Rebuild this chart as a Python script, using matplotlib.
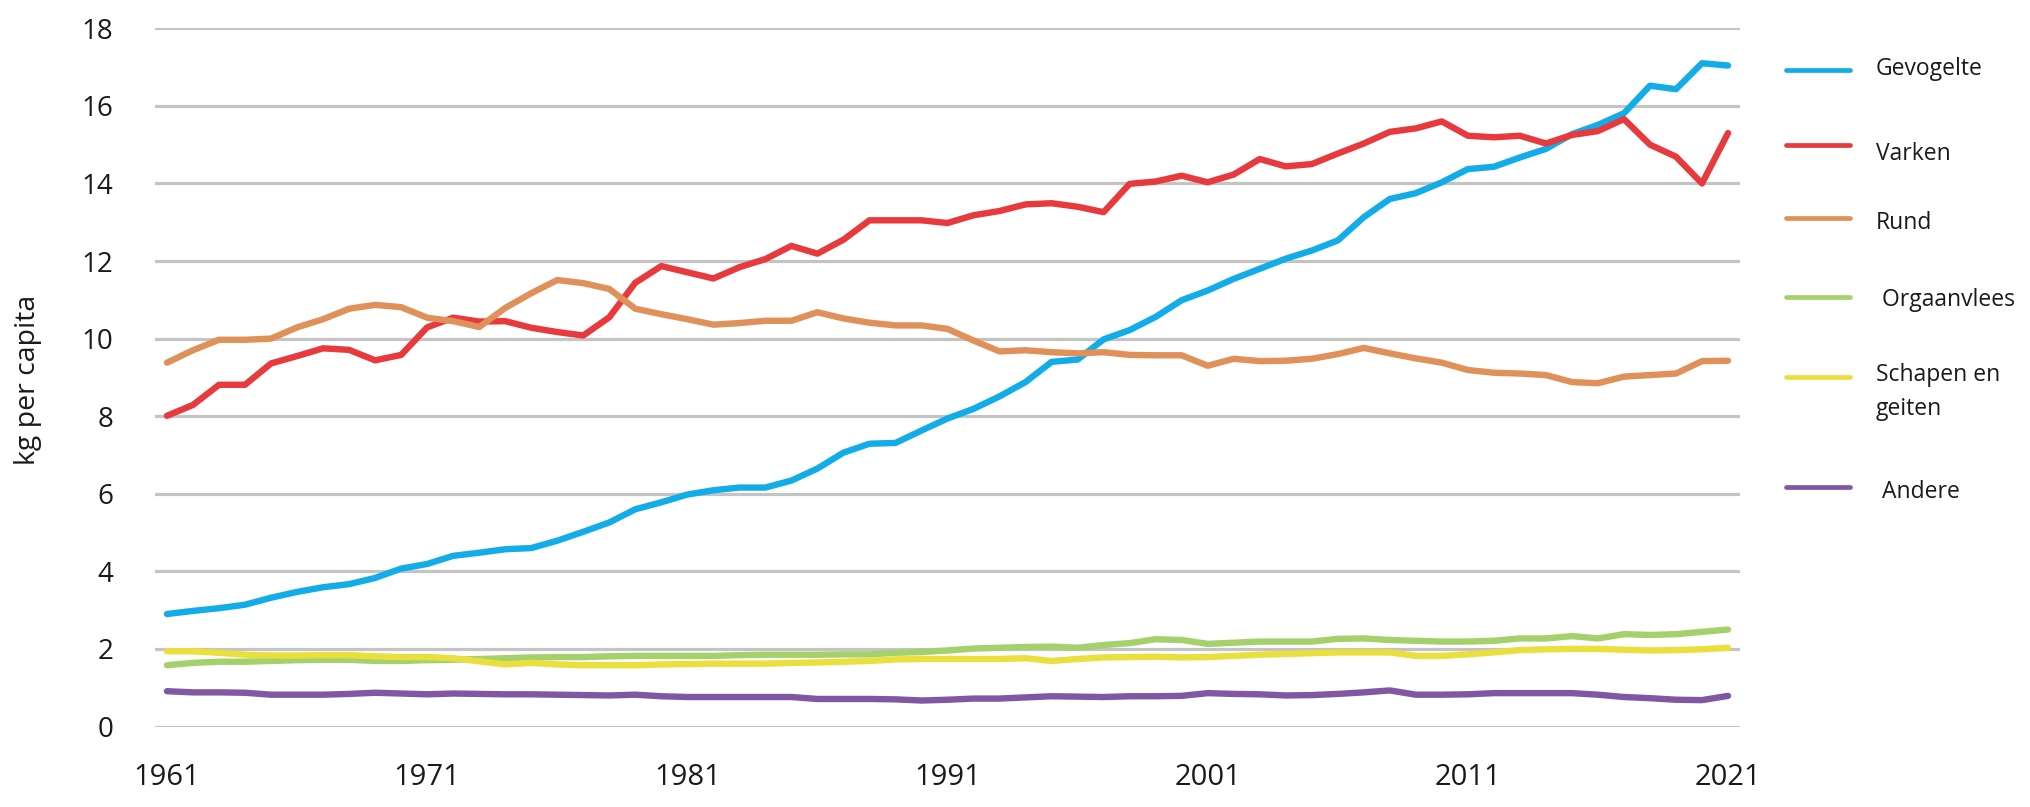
import matplotlib
matplotlib.use('Agg')  # no display available
import matplotlib.pyplot as plt
from matplotlib.lines import Line2D

# --- data: kg per capita, 1961 - 2021 --- #
years = list(range(1961, 2022))

gevogelte = [2.90, 2.98, 3.05, 3.14, 3.32, 3.47, 3.59, 3.67, 3.83, 4.07,
             4.19, 4.40, 4.48, 4.57, 4.60, 4.79, 5.02, 5.26, 5.60, 5.78,
             5.98, 6.09, 6.16, 6.16, 6.34, 6.65, 7.06, 7.29, 7.31, 7.63,
             7.94, 8.19, 8.51, 8.88, 9.40, 9.46, 9.98, 10.22, 10.56, 10.99,
             11.24, 11.54, 11.80, 12.06, 12.27, 12.53, 13.13, 13.60, 13.75, 14.03,
             14.37, 14.43, 14.67, 14.89, 15.27, 15.51, 15.81, 16.52, 16.43, 17.10,
             17.04]

varken = [8.01, 8.29, 8.81, 8.81, 9.36, 9.55, 9.75, 9.71, 9.44, 9.58,
          10.29, 10.54, 10.44, 10.45, 10.28, 10.17, 10.08, 10.55, 11.44, 11.87,
          11.71, 11.55, 11.84, 12.05, 12.39, 12.19, 12.55, 13.05, 13.05, 13.05,
          12.98, 13.18, 13.29, 13.46, 13.49, 13.40, 13.26, 13.99, 14.05, 14.20,
          14.03, 14.23, 14.63, 14.44, 14.50, 14.77, 15.03, 15.33, 15.42, 15.60,
          15.23, 15.19, 15.23, 15.03, 15.25, 15.35, 15.66, 15.00, 14.69, 14.00,
          15.30]

rund = [9.38, 9.70, 9.97, 9.97, 10.00, 10.29, 10.50, 10.77, 10.87, 10.81,
        10.54, 10.45, 10.30, 10.79, 11.17, 11.51, 11.43, 11.28, 10.77, 10.63,
        10.50, 10.36, 10.40, 10.46, 10.46, 10.68, 10.52, 10.41, 10.34, 10.34,
        10.25, 9.95, 9.67, 9.70, 9.65, 9.62, 9.65, 9.58, 9.57, 9.57,
        9.30, 9.48, 9.42, 9.43, 9.48, 9.60, 9.76, 9.62, 9.49, 9.38,
        9.19, 9.12, 9.10, 9.06, 8.88, 8.85, 9.02, 9.06, 9.10, 9.42,
        9.43]

orgaanvlees = [1.58, 1.64, 1.67, 1.67, 1.69, 1.71, 1.72, 1.72, 1.69, 1.69,
               1.71, 1.72, 1.74, 1.76, 1.78, 1.79, 1.79, 1.81, 1.82, 1.82,
               1.82, 1.82, 1.84, 1.85, 1.85, 1.85, 1.86, 1.86, 1.90, 1.92,
               1.96, 2.01, 2.03, 2.05, 2.06, 2.03, 2.10, 2.15, 2.25, 2.23,
               2.13, 2.16, 2.19, 2.19, 2.19, 2.26, 2.27, 2.23, 2.21, 2.19,
               2.19, 2.21, 2.27, 2.27, 2.33, 2.27, 2.38, 2.36, 2.38, 2.44,
               2.50]

schapen = [1.94, 1.94, 1.90, 1.85, 1.83, 1.83, 1.84, 1.84, 1.81, 1.79,
           1.79, 1.76, 1.68, 1.60, 1.64, 1.60, 1.58, 1.58, 1.58, 1.60,
           1.61, 1.62, 1.62, 1.62, 1.64, 1.65, 1.67, 1.69, 1.73, 1.74,
           1.74, 1.74, 1.74, 1.76, 1.69, 1.74, 1.78, 1.79, 1.80, 1.78,
           1.79, 1.82, 1.85, 1.87, 1.89, 1.91, 1.91, 1.91, 1.82, 1.82,
           1.86, 1.91, 1.97, 1.99, 2.00, 2.00, 1.98, 1.96, 1.97, 1.99,
           2.03]

andere = [0.91, 0.88, 0.88, 0.87, 0.82, 0.82, 0.82, 0.84, 0.87, 0.85,
          0.83, 0.85, 0.84, 0.83, 0.83, 0.82, 0.81, 0.80, 0.82, 0.78,
          0.76, 0.76, 0.76, 0.76, 0.76, 0.71, 0.71, 0.71, 0.70, 0.67,
          0.69, 0.72, 0.72, 0.75, 0.78, 0.77, 0.76, 0.78, 0.78, 0.79,
          0.86, 0.84, 0.83, 0.80, 0.81, 0.84, 0.88, 0.93, 0.82, 0.82,
          0.83, 0.86, 0.86, 0.86, 0.86, 0.82, 0.76, 0.73, 0.69, 0.68,
          0.79]

labels = ["Gevogelte", "Varken", "Rund", " Orgaanvlees", "Schapen en\ngeiten", " Andere"]
series = [gevogelte, varken, rund, orgaanvlees, schapen, andere]
colors = ["#12ade8", "#e8393d", "#df9159", "#a5d16c", "#e9df3d", "#8157a3"]

tick_years = [1961, 1971, 1981, 1991, 2001, 2011, 2021]

plt.rcParams['font.family'] = ['Open Sans', 'DejaVu Sans']

W, H = 2030, 807
fig = plt.figure(figsize=(W / 100, H / 100), dpi=100)
ax = fig.add_axes([155 / W, 1 - 726.5 / H, (1740 - 155) / W, (726.5 - 28.3) / H])

for vals, col in zip(series, colors):
    assert len(vals) == len(years)
    ax.plot(years, vals, color=col, linewidth=4.6, solid_capstyle='round',
            solid_joinstyle='round', zorder=3)

# --- axes styling --- #
ax.set_xlim(1960.54, 2021.46)
ax.set_ylim(0, 18)
ax.set_yticks(range(0, 19, 2))
ax.set_xticks(tick_years)
ax.set_xticklabels([str(y) for y in tick_years])
ax.yaxis.grid(True, color='#c4c4c4', linewidth=2.3)
ax.set_axisbelow(True)
for side in ['top', 'right', 'left', 'bottom']:
    ax.spines[side].set_visible(False)
ax.tick_params(axis='y', length=0, pad=30, labelsize=20, labelcolor='#1a1a1a')
ax.tick_params(axis='x', length=0, pad=26, labelsize=21, labelcolor='#1a1a1a')

fig.text(28 / W, 1 - 380 / H, 'kg per capita', rotation=90, ha='center', va='center',
         fontsize=20.5, color='#1a1a1a')

# --- legend drawn by hand so rows sit like the original --- #
line_y = [70, 145, 218, 297, 377, 487]
text_y = [69, 154, 223, 300, 392, 492]
for lab, col, ly, ty in zip(labels, colors, line_y, text_y):
    fig.add_artist(Line2D([1786 / W, 1850 / W], [1 - ly / H, 1 - ly / H], color=col,
                          linewidth=3.4, solid_capstyle='round', transform=fig.transFigure))
    fig.text(1876 / W, 1 - ty / H, lab, ha='left', va='center', fontsize=16.5,
             color='#1a1a1a', linespacing=1.55)

fig.savefig('out.png', dpi=100)
plt.close(fig)
